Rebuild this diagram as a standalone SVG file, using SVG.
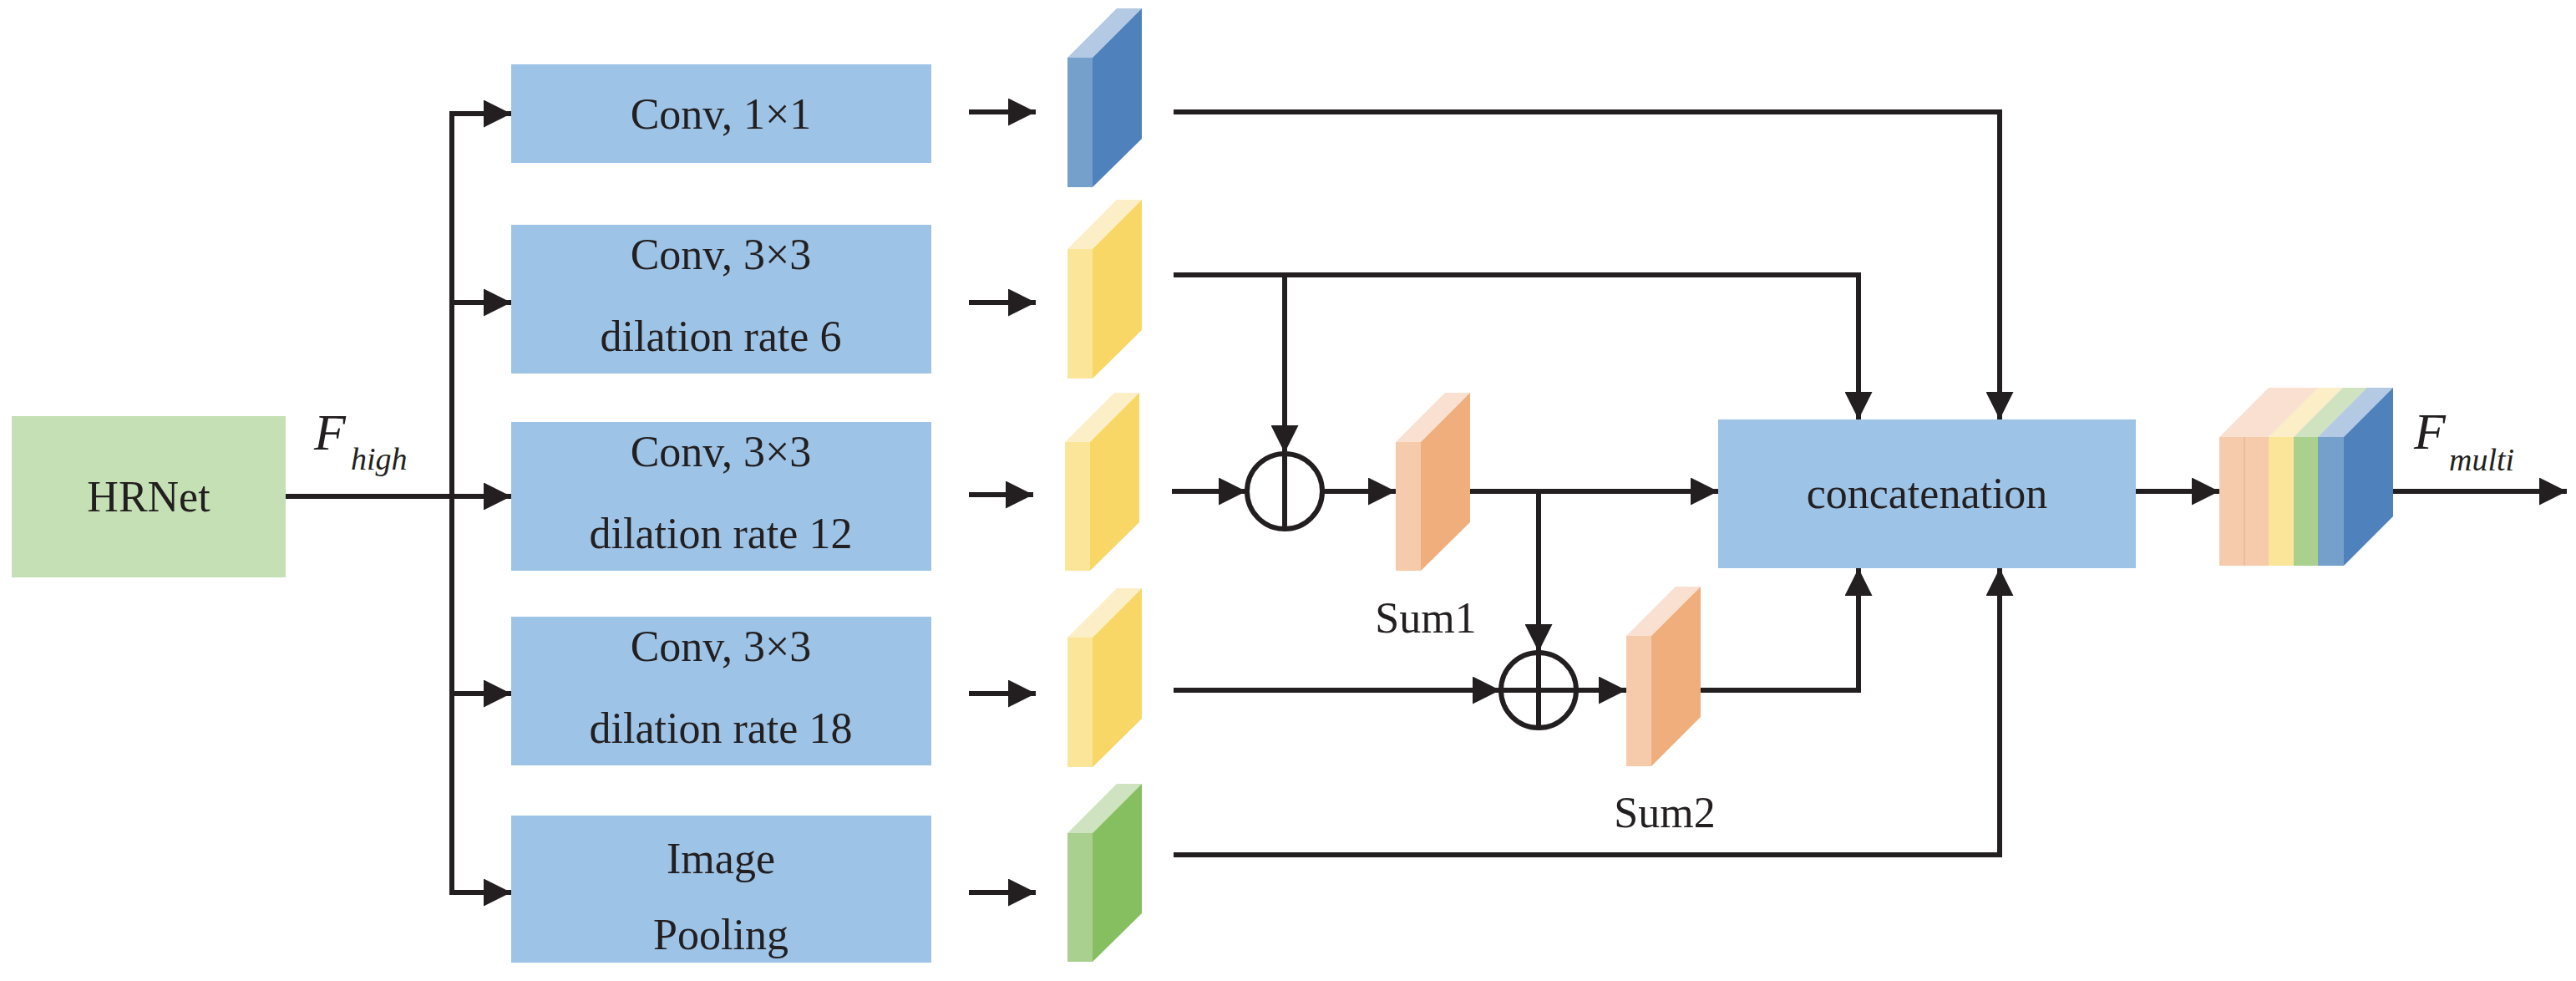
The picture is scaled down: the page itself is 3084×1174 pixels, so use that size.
<svg xmlns="http://www.w3.org/2000/svg" width="3084" height="1174" viewBox="0 0 3084 1174">
<style>
.box{fill:#9dc3e6}
.t{font-family:"Liberation Serif",serif;font-size:52px;fill:#231f20;text-anchor:middle}
.ln{stroke:#231f20;stroke-width:6;fill:none}
.it{font-family:"Liberation Serif",serif;font-style:italic;fill:#231f20}
</style>
<defs>
<marker id="ah" viewBox="0 0 10 10" refX="10" refY="5" markerWidth="5.5" markerHeight="5.5" orient="auto" markerUnits="strokeWidth"><path d="M0,0L10,5L0,10z" fill="#231f20"/></marker>
<filter id="sh" x="-10%" y="-10%" width="130%" height="130%"><feGaussianBlur in="SourceAlpha" stdDeviation="4"/><feOffset dx="2" dy="8"/><feComponentTransfer><feFuncA type="linear" slope="0.15"/></feComponentTransfer><feFlood flood-color="#5b9bd5"/><feComposite operator="in" in2="SourceGraphic"/></filter>
</defs>
<g id="hrnet"><rect x="14" y="498" width="328" height="193" fill="#c5e0b4"/><text class="t" x="178" y="612">HRNet</text></g>
<g id="conv1"><rect class="box" x="612" y="77" width="503" height="118"/><text class="t" x="863" y="154">Conv, 1×1</text></g>
<g id="conv2"><rect class="box" x="612" y="269" width="503" height="178"/><text class="t" x="863" y="322">Conv, 3×3</text><text class="t" x="863" y="420">dilation rate 6</text></g>
<g id="conv3"><rect class="box" x="612" y="505" width="503" height="178"/><text class="t" x="863" y="558">Conv, 3×3</text><text class="t" x="863" y="656">dilation rate 12</text></g>
<g id="conv4"><rect class="box" x="612" y="738" width="503" height="178"/><text class="t" x="863" y="791">Conv, 3×3</text><text class="t" x="863" y="889">dilation rate 18</text></g>
<g id="pool"><rect class="box" x="612" y="976" width="503" height="176"/><text class="t" x="863" y="1045">Image</text><text class="t" x="863" y="1136">Pooling</text></g>
<g id="concat"><rect class="box" x="2057" y="502" width="500" height="178"/><text class="t" x="2307" y="608">concatenation</text></g>
<g id="cube1"><polygon points="1278,69 1337,10 1367,10 1308,69" fill="#b4c9e3"/><rect x="1278" y="69" width="30" height="155" fill="#75a0cc"/><polygon points="1308,69 1367,10 1367,166 1308,224" fill="#4f81bd"/></g>
<g id="cube2"><polygon points="1278,298 1337,239 1367,239 1308,298" fill="#fcefc7"/><rect x="1278" y="298" width="30" height="155" fill="#fae598"/><polygon points="1308,298 1367,239 1367,395 1308,453" fill="#f9d766"/></g>
<g id="cube3"><polygon points="1275,529 1334,470 1364,470 1305,529" fill="#fcefc7"/><rect x="1275" y="529" width="30" height="154" fill="#fae598"/><polygon points="1305,529 1364,470 1364,625 1305,683" fill="#f9d766"/></g>
<g id="cube4"><polygon points="1278,763 1337,704 1367,704 1308,763" fill="#fcefc7"/><rect x="1278" y="763" width="30" height="155" fill="#fae598"/><polygon points="1308,763 1367,704 1367,860 1308,918" fill="#f9d766"/></g>
<g id="cube5"><polygon points="1278,997 1337,938 1367,938 1308,997" fill="#d0e3c0"/><rect x="1278" y="997" width="30" height="154" fill="#a9d08e"/><polygon points="1308,997 1367,938 1367,1093 1308,1151" fill="#86bf60"/></g>
<g id="sum1"><polygon points="1671,529 1730,470 1760,470 1701,529" fill="#f9e0d0"/><rect x="1671" y="529" width="30" height="154" fill="#f5cbac"/><polygon points="1701,529 1760,470 1760,625 1701,683" fill="#f0ae7c"/><text class="t" x="1707" y="757">Sum1</text></g>
<g id="sum2"><polygon points="1947,761 2006,702 2036,702 1977,761" fill="#f9e0d0"/><rect x="1947" y="761" width="30" height="156" fill="#f5cbac"/><polygon points="1977,761 2036,702 2036,858 1977,917" fill="#f0ae7c"/><text class="t" x="1993" y="990">Sum2</text></g>
<g id="cubeout">
<polygon points="2657,523 2716,464 2865,464 2806,523" fill="#f9e0d0"/>
<polygon points="2716,523 2775,464 2805,464 2746,523" fill="#fcefc7"/>
<polygon points="2746,523 2805,464 2834,464 2775,523" fill="#d0e3c0"/>
<polygon points="2775,523 2834,464 2865,464 2806,523" fill="#b4c9e3"/>
<rect x="2657" y="523" width="59" height="154" fill="#f5cbac"/><line x1="2687" y1="523" x2="2687" y2="677" stroke="#e9bd9e" stroke-width="2"/>
<rect x="2716" y="523" width="30" height="154" fill="#fae598"/>
<rect x="2746" y="523" width="29" height="154" fill="#a9d08e"/>
<rect x="2775" y="523" width="31" height="154" fill="#75a0cc"/>
<polygon points="2806,523 2865,464 2865,618 2806,677" fill="#4f81bd"/>
</g>
<g id="labels">
<text class="it" x="376" y="538" font-size="62">F</text><text class="it" x="420" y="562" font-size="38">high</text>
<text class="it" x="2890" y="537" font-size="62">F</text><text class="it" x="2932" y="563" font-size="38">multi</text>
</g>
<g id="connectors">
<line class="ln" x1="342" y1="594" x2="612" y2="594" marker-end="url(#ah)"/>
<polyline class="ln" points="612,136 541,136 541,1068 612,1068" marker-end="url(#ah)"/>
<line class="ln" x1="541" y1="136" x2="612" y2="136" marker-end="url(#ah)"/>
<line class="ln" x1="541" y1="362" x2="612" y2="362" marker-end="url(#ah)"/>
<line class="ln" x1="541" y1="830" x2="612" y2="830" marker-end="url(#ah)"/>
<line class="ln" x1="1160" y1="134" x2="1240" y2="134" marker-end="url(#ah)"/>
<line class="ln" x1="1160" y1="362" x2="1240" y2="362" marker-end="url(#ah)"/>
<line class="ln" x1="1160" y1="592" x2="1237" y2="592" marker-end="url(#ah)"/>
<line class="ln" x1="1160" y1="830" x2="1240" y2="830" marker-end="url(#ah)"/>
<line class="ln" x1="1160" y1="1068" x2="1240" y2="1068" marker-end="url(#ah)"/>
<polyline class="ln" points="1405,134 2394,134 2394,502" marker-end="url(#ah)"/>
<polyline class="ln" points="1405,329 2225,329 2225,502" marker-end="url(#ah)"/>
<line class="ln" x1="1538" y1="329" x2="1538" y2="542" marker-end="url(#ah)"/>
<line class="ln" x1="1403" y1="588" x2="1492" y2="588" marker-end="url(#ah)"/>
<circle class="ln" cx="1538" cy="588" r="45"/><line class="ln" x1="1538" y1="543" x2="1538" y2="633"/>
<line class="ln" x1="1584" y1="588" x2="1671" y2="588" marker-end="url(#ah)"/>
<line class="ln" x1="1760" y1="588" x2="2057" y2="588" marker-end="url(#ah)"/>
<line class="ln" x1="1842" y1="588" x2="1842" y2="780" marker-end="url(#ah)"/>
<line class="ln" x1="1405" y1="826" x2="1796" y2="826" marker-end="url(#ah)"/>
<circle class="ln" cx="1842" cy="826" r="45"/><line class="ln" x1="1842" y1="781" x2="1842" y2="871"/><line class="ln" x1="1797" y1="826" x2="1887" y2="826"/>
<line class="ln" x1="1887" y1="826" x2="1947" y2="826" marker-end="url(#ah)"/>
<polyline class="ln" points="2036,826 2225,826 2225,680" marker-end="url(#ah)"/>
<polyline class="ln" points="1405,1023 2394,1023 2394,680" marker-end="url(#ah)"/>
<line class="ln" x1="2557" y1="588" x2="2657" y2="588" marker-end="url(#ah)"/>
<line class="ln" x1="2865" y1="588" x2="3073" y2="588" marker-end="url(#ah)"/>
</g>
</svg>
